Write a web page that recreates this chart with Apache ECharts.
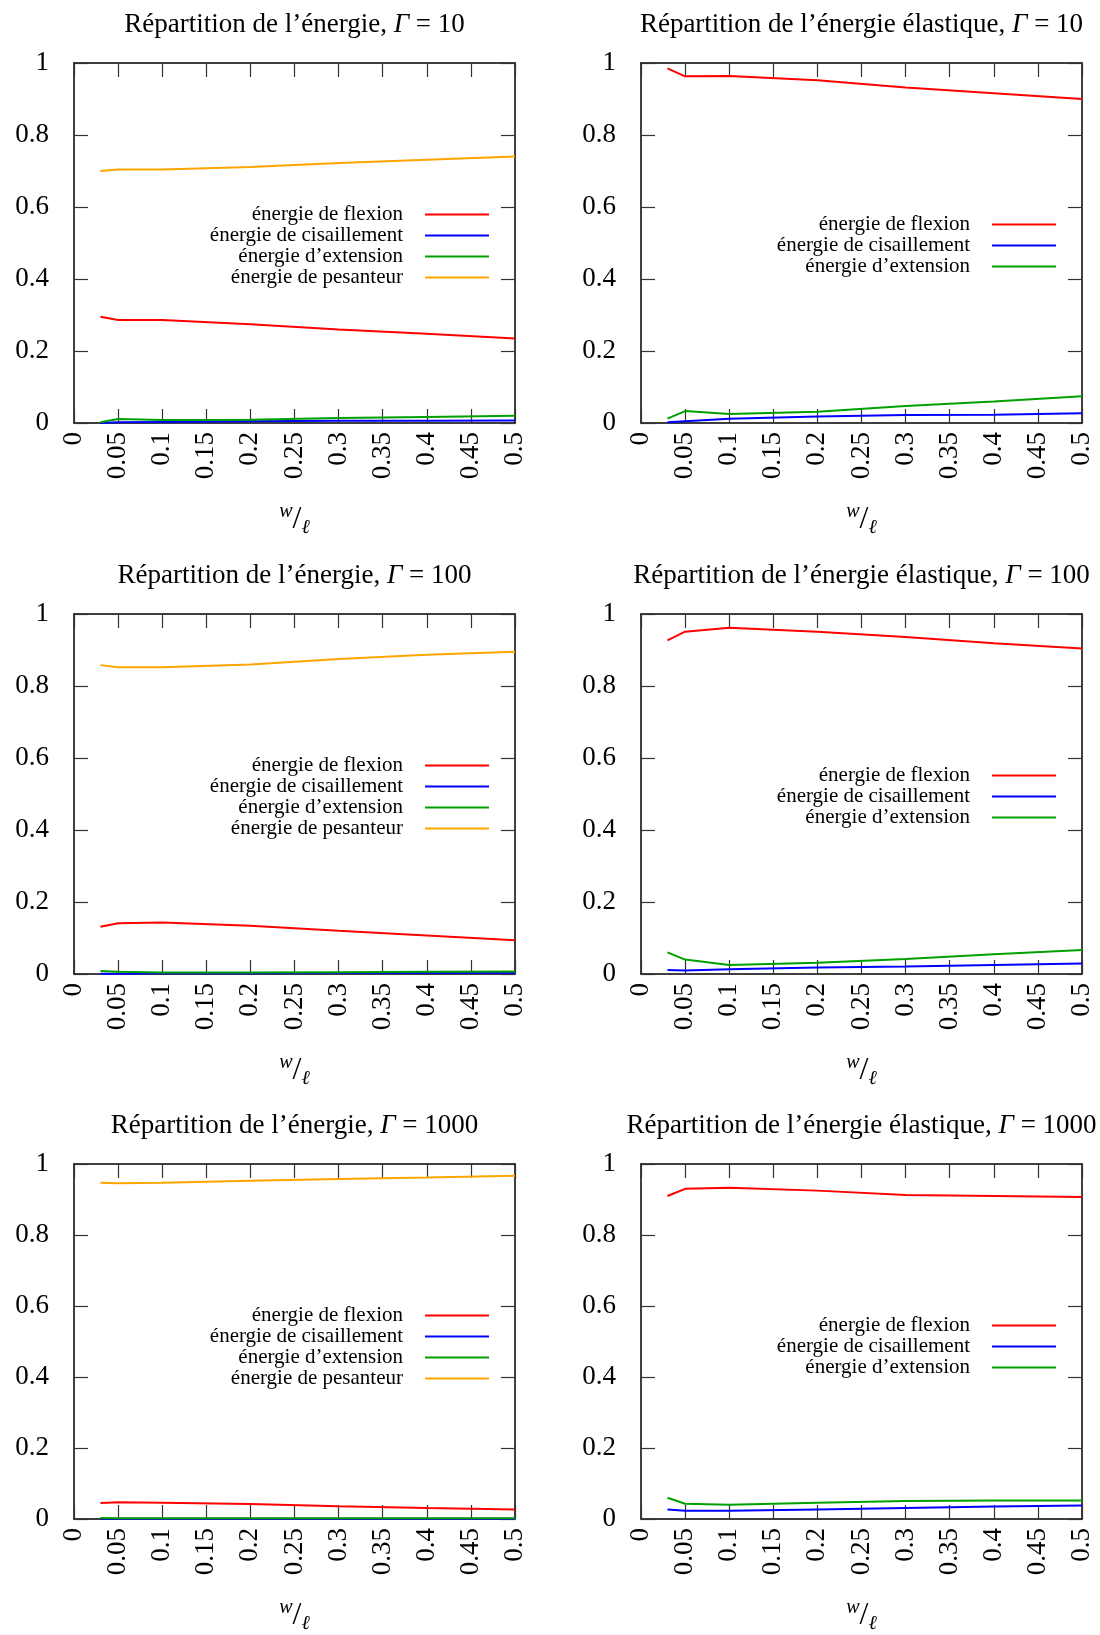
<!DOCTYPE html>
<html>
<head>
<meta charset="utf-8">
<script src="https://cdn.jsdelivr.net/npm/echarts@6/dist/echarts.min.js"></script>
<style>
  html, body { margin: 0; padding: 0; background: #fff; }
  #chart { width: 1100px; height: 1635px; }
</style>
</head>
<body>
<div id="chart"></div>
<script>
// abscisse w/l
var wl = [0.03, 0.05, 0.1, 0.2, 0.3, 0.4, 0.5];

// Gamma = 10
var flex10 = [0.295, 0.286, 0.286, 0.274, 0.260, 0.248, 0.235];
var cis10 = [0.000, 0.002, 0.003, 0.005, 0.006, 0.006, 0.007];
var ext10 = [0.002, 0.011, 0.008, 0.009, 0.014, 0.017, 0.020];
var pes10 = [0.700, 0.704, 0.704, 0.711, 0.722, 0.731, 0.740];
var flexEl10 = [0.985, 0.963, 0.964, 0.952, 0.932, 0.916, 0.900];
var cisEl10 = [0.002, 0.005, 0.012, 0.018, 0.022, 0.023, 0.027];
var extEl10 = [0.012, 0.033, 0.025, 0.031, 0.047, 0.060, 0.074];

// Gamma = 100
var flex100 = [0.131, 0.141, 0.143, 0.134, 0.120, 0.107, 0.094];
var cis100 = [0.001, 0.001, 0.002, 0.002, 0.003, 0.003, 0.003];
var ext100 = [0.008, 0.006, 0.004, 0.004, 0.005, 0.006, 0.007];
var pes100 = [0.858, 0.852, 0.852, 0.860, 0.875, 0.887, 0.895];
var flexEl100 = [0.927, 0.951, 0.962, 0.951, 0.936, 0.919, 0.904];
var cisEl100 = [0.011, 0.010, 0.013, 0.018, 0.021, 0.025, 0.029];
var extEl100 = [0.060, 0.040, 0.025, 0.031, 0.042, 0.055, 0.067];

// Gamma = 1000
var flex1000 = [0.045, 0.047, 0.046, 0.042, 0.036, 0.031, 0.027];
var cis1000 = [0.001, 0.001, 0.001, 0.001, 0.001, 0.001, 0.001];
var ext1000 = [0.003, 0.002, 0.002, 0.002, 0.002, 0.002, 0.002];
var pes1000 = [0.947, 0.946, 0.947, 0.953, 0.958, 0.962, 0.967];
var flexEl1000 = [0.910, 0.930, 0.933, 0.925, 0.913, 0.910, 0.907];
var cisEl1000 = [0.027, 0.023, 0.023, 0.027, 0.031, 0.035, 0.038];
var extEl1000 = [0.060, 0.043, 0.040, 0.046, 0.051, 0.052, 0.052];

var gammas = ['10', '100', '1000'];
var names = ['énergie de flexion', 'énergie de cisaillement', 'énergie d’extension', 'énergie de pesanteur'];
var colors = ['#ff0000', '#0000ff', '#00a000', '#ffa500'];

var panels = [
  [flex10, cis10, ext10, pes10], [flexEl10, cisEl10, extEl10],
  [flex100, cis100, ext100, pes100], [flexEl100, cisEl100, extEl100],
  [flex1000, cis1000, ext1000, pes1000], [flexEl1000, cisEl1000, extEl1000]
];

var rowTop = [63, 614, 1164];
var plotH = 360;
var plotW = 441;
var colLeft = [74, 641];

var serif = 'Liberation Serif';

function trim(v) { return String(parseFloat(v.toFixed(2))); }

var option = {
  animation: false,
  backgroundColor: '#fff',
  title: [], grid: [], xAxis: [], yAxis: [], legend: [], series: []
};

panels.forEach(function (vals, p) {
  var row = Math.floor(p / 2), col = p % 2;
  var top = rowTop[row], left = colLeft[col];
  var g = gammas[row];
  var txt = col === 0 ? 'Répartition de l’énergie, {i|Γ} = ' + g
                      : 'Répartition de l’énergie élastique, {i|Γ} = ' + g;
  option.title.push({
    text: txt,
    left: left + plotW / 2,
    top: top - 53,
    textAlign: 'center',
    padding: 0,
    textStyle: {
      fontFamily: serif, fontSize: 27, fontWeight: 'normal', color: '#000', lineHeight: 30,
      rich: { i: { fontFamily: serif, fontSize: 27, fontStyle: 'italic', lineHeight: 30 } }
    }
  });
  option.grid.push({ left: left, top: top, width: plotW, height: plotH, show: false });

  var tick = { show: true, inside: true, length: 14, lineStyle: { color: '#333', width: 1.2 } };
  var frame = { show: true, onZero: false, lineStyle: { color: '#000', width: 1.5 } };

  option.xAxis.push({
    type: 'value', gridIndex: p, min: 0, max: 0.5, interval: 0.05, position: 'bottom',
    axisLine: frame, axisTick: tick, splitLine: { show: false },
    axisLabel: { rotate: 90, margin: 9, fontFamily: serif, fontSize: 27, color: '#000', formatter: trim },
    name: '{w|w}{s|/}{l|ℓ}', nameLocation: 'middle', nameGap: 79,
    nameTextStyle: {
      rich: {
        w: { fontFamily: serif, fontSize: 20, fontStyle: 'italic', color: '#000', verticalAlign: 'top' },
        s: { fontFamily: serif, fontSize: 32, color: '#000', lineHeight: 36 },
        l: { fontFamily: serif, fontSize: 20, fontStyle: 'italic', color: '#000', verticalAlign: 'bottom' }
      }
    }
  });
  option.xAxis.push({
    type: 'value', gridIndex: p, min: 0, max: 0.5, interval: 0.05, position: 'top',
    axisLine: frame, axisTick: tick, axisLabel: { show: false }, splitLine: { show: false }
  });
  option.yAxis.push({
    type: 'value', gridIndex: p, min: 0, max: 1, interval: 0.2, position: 'left',
    axisLine: frame, axisTick: tick, splitLine: { show: false },
    axisLabel: { margin: 25, fontFamily: serif, fontSize: 27, color: '#000', formatter: trim }
  });
  option.yAxis.push({
    type: 'value', gridIndex: p, min: 0, max: 1, interval: 0.2, position: 'right',
    axisLine: frame, axisTick: tick, axisLabel: { show: false }, splitLine: { show: false }
  });

  var used = names.slice(0, vals.length);
  option.legend.push({
    data: used,
    orient: 'vertical',
    align: 'right',
    right: col === 0 ? 611 : 44,
    top: top + (col === 0 ? 141 : 151),
    padding: 0,
    itemGap: 0,
    itemWidth: 64,
    itemHeight: 2,
    icon: 'rect',
    selectedMode: false,
    textStyle: { fontFamily: serif, fontSize: 21, color: '#000', lineHeight: 20, padding: [0, 17, 0, 0] }
  });

  vals.forEach(function (arr, k) {
    option.series.push({
      name: names[k],
      type: 'line',
      xAxisIndex: 2 * p,
      yAxisIndex: 2 * p,
      showSymbol: false,
      symbol: 'none',
      color: colors[k],
      lineStyle: { color: colors[k], width: 2 },
      data: wl.map(function (x, i) { return [x, arr[i]]; })
    });
  });
});

var chart = echarts.init(document.getElementById('chart'), null, { renderer: 'canvas' });
chart.setOption(option);
</script>
</body>
</html>
